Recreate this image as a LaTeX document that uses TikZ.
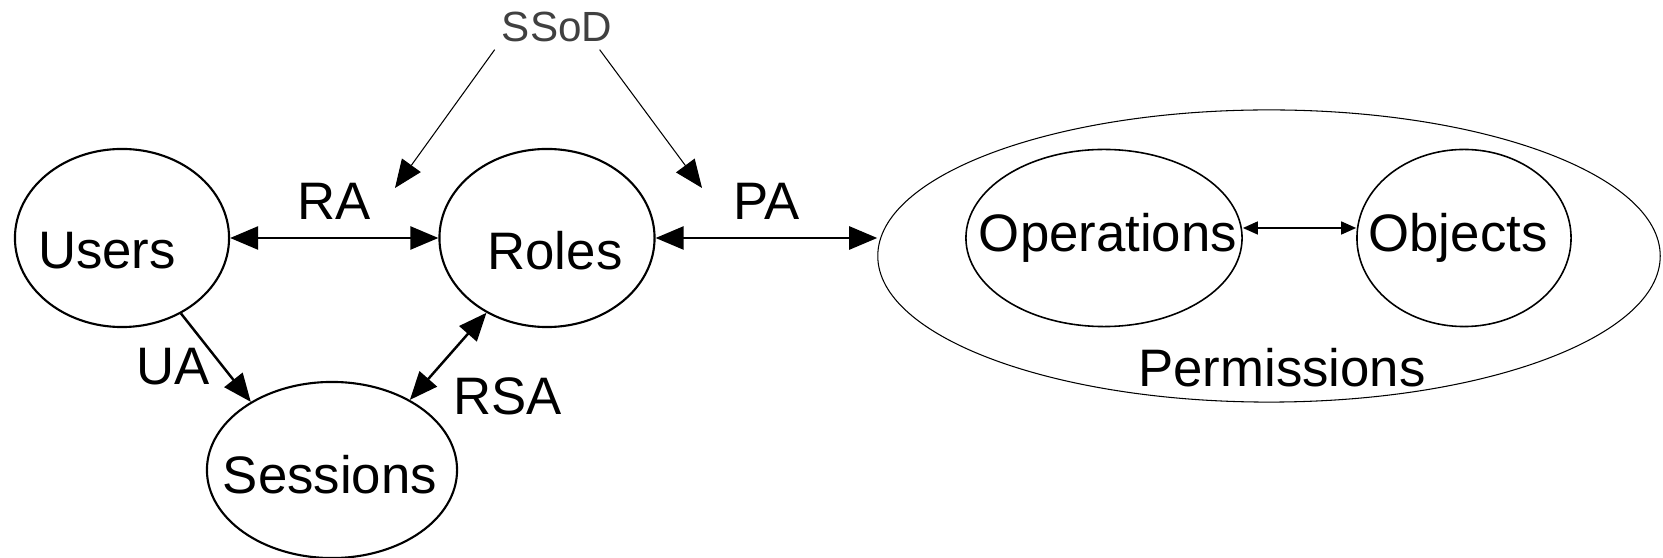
\documentclass[tikz,border=0pt]{standalone}
\usepackage{fontspec}
\setmainfont{Liberation Sans}
\usepackage{tikz}
\usetikzlibrary{arrows.meta,shapes.geometric,positioning}
\definecolor{ssodgray}{HTML}{404040}

\begin{document}
\begin{tikzpicture}[x=0.01cm,y=-0.01cm,font=\fontsize{15pt}{18pt}\selectfont,
    >={Triangle[length=2.8mm,width=2.3mm]},
    set/.style={draw,ellipse,line width=0.6pt,inner sep=0pt},
    link/.style={line width=0.7pt},
    hook/.style={line width=0.3pt,->}]
      \useasboundingbox (0,0) rectangle (1663,558);

      \node[set,minimum width=2.14cm,minimum height=1.78cm,
        label={[xshift=-1.5mm,yshift=-1.3mm]center:Users}] (users) at (122,238) {};
      \node[set,minimum width=2.15cm,minimum height=1.78cm,
        label={[xshift=0.8mm,yshift=-1.3mm]center:Roles}] (roles) at (547,238) {};
      \node[set,minimum width=2.50cm,minimum height=1.76cm,
        label={[xshift=-0.2mm,yshift=-0.5mm]center:Sessions}] (sessions) at (332,470) {};
      \node[set,line width=0.3pt,minimum width=7.82cm,minimum height=2.92cm] (perm) at (1269,256) {};
      \node[set,line width=0.45pt,minimum width=2.76cm,minimum height=1.77cm,
        label={[xshift=0.4mm]center:Operations}] (ops) at (1104,238) {};
      \node[set,line width=0.45pt,minimum width=2.14cm,minimum height=1.77cm,
        label={[xshift=-0.6mm]center:Objects}] (objs) at (1464,238) {};
      \node (permname) at (1282,368) {Permissions};

      \node[text=ssodgray,font=\fontsize{12pt}{14pt}\selectfont,inner sep=2pt] (ssod) at (557,27) {SSoD};
      \coordinate (rahook) at (395,188);
      \coordinate (pahook) at (702,188);
      \draw[hook] (ssod.-160) -- (rahook);
      \draw[hook] (ssod.-28) -- (pahook);

      \path[<->,link] (users) edge node[above=0.6mm] {RA} (roles);
      \path[<->,link] (roles) edge node[above=0.6mm] {PA} (roles -| perm.west);
      \path[->,link] (users.-52) edge node[pos=0.6,left] {UA} (sessions.140);
      \path[<->,link] (roles.-129) edge node[pos=0.6,below right] {RSA} (sessions.42);
      \path[<->,line width=0.45pt,>={Triangle[length=1.5mm,width=1.3mm]}] ([yshift=1mm]ops.east) edge ([yshift=1mm]objs.west);
    \end{tikzpicture}
\end{document}
